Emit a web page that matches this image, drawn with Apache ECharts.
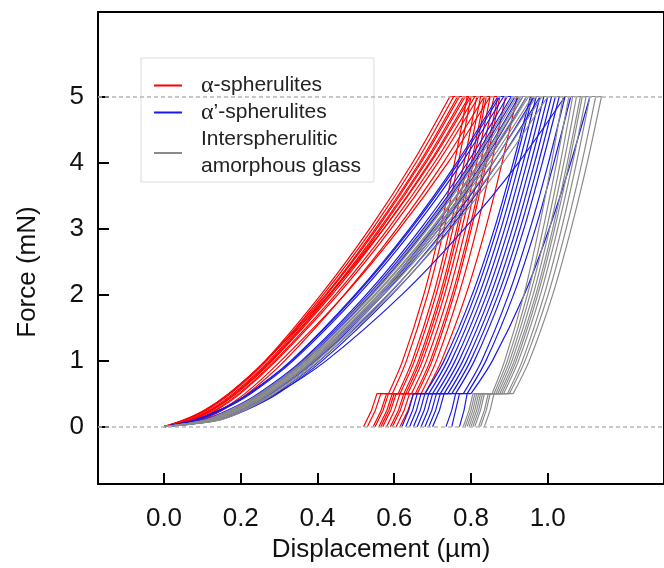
<!DOCTYPE html>
<html>
<head>
<meta charset="utf-8">
<script src="https://cdn.jsdelivr.net/npm/echarts@6/dist/echarts.min.js"></script>
<style>
html, body { margin: 0; padding: 0; background: #fff; }
#chart { width: 664px; height: 568px; }
</style>
</head>
<body>
<div id="chart"></div>
<script>
var xTicks = [0, 0.2, 0.4, 0.6, 0.8, 1.0];
var yTicks = [0, 1, 2, 3, 4, 5];
var refLines = [0, 5];

// force levels (mN) of the loading branch, displacement starts at 0
var loadForce = [0, 0.1, 0.25, 0.5, 1, 2, 3, 4, 5];
// force levels of the unloading branch (from the end of the peak hold down to 0.5 mN)
var unloadForce = [5, 4, 3, 2, 1, 0.5];
// force levels after the hold at 0.5 mN
var tailForce = [0.5, 0.25, 0];

var names = ['α-spherulites', 'α’-spherulites', 'Interspherulitic\namorphous glass'];
var colors = ['#ff0000', '#1a1ae6', '#8a8a8a'];

// displacement (um) at loadForce 0.1 .. 5
var redLoad = [
	[0.054, 0.108, 0.170, 0.264, 0.409, 0.536, 0.648, 0.745],
	[0.058, 0.112, 0.174, 0.268, 0.415, 0.544, 0.657, 0.755],
	[0.050, 0.105, 0.168, 0.265, 0.421, 0.551, 0.666, 0.765],
	[0.064, 0.118, 0.180, 0.274, 0.424, 0.555, 0.670, 0.770],
	[0.068, 0.122, 0.184, 0.278, 0.430, 0.562, 0.679, 0.780],
	[0.070, 0.124, 0.186, 0.280, 0.433, 0.566, 0.683, 0.785],
	[0.073, 0.127, 0.189, 0.283, 0.438, 0.573, 0.692, 0.795],
	[0.052, 0.106, 0.170, 0.265, 0.430, 0.573, 0.695, 0.800],
	[0.079, 0.133, 0.195, 0.289, 0.447, 0.584, 0.705, 0.810],
	[0.083, 0.137, 0.199, 0.293, 0.453, 0.592, 0.714, 0.820],
	[0.095, 0.152, 0.218, 0.315, 0.470, 0.607, 0.728, 0.835],
	[0.090, 0.147, 0.211, 0.305, 0.471, 0.614, 0.740, 0.850]
];
// end of peak hold, unload at 4,3,2,1,0.5 mN, end of 0.5 mN hold, at 0.25, at 0
var redUnload = [
	[0.790, 0.757, 0.720, 0.677, 0.622, 0.585, 0.555, 0.541, 0.520],
	[0.800, 0.767, 0.730, 0.687, 0.632, 0.595, 0.565, 0.551, 0.530],
	[0.815, 0.782, 0.745, 0.702, 0.647, 0.610, 0.580, 0.566, 0.545],
	[0.825, 0.791, 0.753, 0.709, 0.653, 0.615, 0.585, 0.571, 0.550],
	[0.835, 0.801, 0.763, 0.719, 0.663, 0.625, 0.595, 0.581, 0.560],
	[0.840, 0.806, 0.768, 0.724, 0.668, 0.630, 0.600, 0.586, 0.565],
	[0.850, 0.815, 0.776, 0.731, 0.674, 0.635, 0.605, 0.591, 0.570],
	[0.860, 0.825, 0.786, 0.741, 0.684, 0.645, 0.615, 0.601, 0.580],
	[0.870, 0.835, 0.796, 0.751, 0.694, 0.655, 0.625, 0.611, 0.590],
	[0.875, 0.840, 0.801, 0.756, 0.699, 0.660, 0.630, 0.616, 0.595],
	[0.890, 0.854, 0.815, 0.768, 0.710, 0.670, 0.640, 0.626, 0.605],
	[0.920, 0.881, 0.838, 0.787, 0.723, 0.680, 0.650, 0.636, 0.615]
];

var blueLoad = [
	[0.079, 0.144, 0.220, 0.331, 0.498, 0.640, 0.763, 0.870],
	[0.081, 0.146, 0.222, 0.333, 0.501, 0.644, 0.768, 0.875],
	[0.085, 0.150, 0.226, 0.337, 0.507, 0.651, 0.776, 0.885],
	[0.100, 0.167, 0.245, 0.359, 0.527, 0.669, 0.791, 0.895],
	[0.104, 0.171, 0.249, 0.363, 0.533, 0.676, 0.800, 0.905],
	[0.108, 0.175, 0.254, 0.368, 0.540, 0.684, 0.808, 0.915],
	[0.125, 0.193, 0.272, 0.388, 0.560, 0.702, 0.822, 0.925],
	[0.128, 0.197, 0.277, 0.393, 0.566, 0.710, 0.831, 0.935],
	[0.131, 0.200, 0.281, 0.397, 0.572, 0.717, 0.840, 0.945],
	[0.138, 0.208, 0.290, 0.406, 0.585, 0.733, 0.858, 0.965],
	[0.142, 0.213, 0.296, 0.413, 0.594, 0.745, 0.871, 0.980],
	[0.125, 0.203, 0.293, 0.423, 0.620, 0.783, 0.924, 1.045]
];
var blueUnload = [
	[0.955, 0.910, 0.861, 0.803, 0.730, 0.680, 0.650, 0.638, 0.620],
	[0.960, 0.916, 0.868, 0.811, 0.739, 0.690, 0.660, 0.648, 0.630],
	[0.970, 0.926, 0.878, 0.821, 0.749, 0.700, 0.670, 0.658, 0.640],
	[0.980, 0.936, 0.888, 0.831, 0.759, 0.710, 0.680, 0.668, 0.650],
	[0.990, 0.946, 0.898, 0.841, 0.769, 0.720, 0.690, 0.678, 0.660],
	[1.000, 0.956, 0.908, 0.851, 0.779, 0.730, 0.700, 0.688, 0.670],
	[1.010, 0.966, 0.918, 0.861, 0.789, 0.740, 0.710, 0.698, 0.680],
	[1.020, 0.976, 0.928, 0.871, 0.799, 0.750, 0.720, 0.708, 0.690],
	[1.030, 0.986, 0.938, 0.881, 0.809, 0.760, 0.730, 0.718, 0.700],
	[1.045, 1.002, 0.954, 0.898, 0.828, 0.780, 0.760, 0.750, 0.735],
	[1.060, 1.016, 0.968, 0.911, 0.839, 0.790, 0.770, 0.760, 0.750],
	[1.110, 1.060, 1.004, 0.939, 0.856, 0.800, 0.790, 0.782, 0.770]
];

var grayLoad = [
	[0.106, 0.171, 0.249, 0.365, 0.536, 0.680, 0.804, 0.910],
	[0.111, 0.176, 0.254, 0.370, 0.543, 0.688, 0.813, 0.920],
	[0.115, 0.180, 0.258, 0.374, 0.549, 0.696, 0.822, 0.930],
	[0.117, 0.182, 0.260, 0.376, 0.552, 0.699, 0.826, 0.935],
	[0.121, 0.186, 0.264, 0.380, 0.558, 0.707, 0.835, 0.945],
	[0.124, 0.189, 0.267, 0.383, 0.561, 0.711, 0.840, 0.950],
	[0.128, 0.193, 0.271, 0.387, 0.567, 0.718, 0.848, 0.960],
	[0.132, 0.197, 0.275, 0.391, 0.573, 0.726, 0.857, 0.970],
	[0.139, 0.204, 0.282, 0.398, 0.583, 0.738, 0.871, 0.985],
	[0.145, 0.210, 0.288, 0.404, 0.592, 0.749, 0.884, 1.000]
];
var grayUnload = [
	[1.040, 1.010, 0.977, 0.938, 0.888, 0.855, 0.805, 0.795, 0.780],
	[1.055, 1.023, 0.988, 0.947, 0.895, 0.860, 0.810, 0.800, 0.785],
	[1.065, 1.033, 0.997, 0.954, 0.901, 0.865, 0.815, 0.805, 0.790],
	[1.075, 1.042, 1.005, 0.962, 0.907, 0.870, 0.820, 0.810, 0.795],
	[1.085, 1.051, 1.013, 0.969, 0.913, 0.875, 0.825, 0.815, 0.800],
	[1.090, 1.056, 1.018, 0.974, 0.918, 0.880, 0.830, 0.820, 0.805],
	[1.100, 1.065, 1.026, 0.981, 0.924, 0.885, 0.835, 0.825, 0.810],
	[1.110, 1.075, 1.036, 0.991, 0.934, 0.895, 0.845, 0.835, 0.820],
	[1.125, 1.089, 1.048, 1.001, 0.941, 0.900, 0.850, 0.840, 0.825],
	[1.140, 1.103, 1.061, 1.013, 0.952, 0.910, 0.860, 0.850, 0.835]
];

var FONT = '"Liberation Sans", Arial, Helvetica, sans-serif';
var series = [];

function lineSeries(idx, data, smooth) {
	return {
		name: names[idx], type: 'line', data: data, showSymbol: false, silent: true,
		smooth: smooth, lineStyle: { color: colors[idx], width: 1.2 }, itemStyle: { color: colors[idx] }
	};
}

function addGroup(idx, loads, unloads) {
	for (var i = 0; i < loads.length; i++) {
		var ld = [[0, loadForce[0]]];
		for (var j = 0; j < loads[i].length; j++) {
			ld.push([loads[i][j], loadForce[j + 1]]);
		}
		var hL = loads[i][loads[i].length - 1];
		var u = unloads[i];
		var ud = [];
		for (var k = 0; k < unloadForce.length; k++) {
			ud.push([u[k], unloadForce[k]]);
		}
		var tail = [[u[5], 0.5]];
		for (var t = 0; t < tailForce.length; t++) {
			tail.push([u[6 + t], tailForce[t]]);
		}
		series.push(lineSeries(idx, ld, 0.3));
		series.push(lineSeries(idx, [[hL, 5], [u[0], 5]], false));
		series.push(lineSeries(idx, ud, 0.3));
		series.push(lineSeries(idx, tail, false));
	}
}
addGroup(0, redLoad, redUnload);
addGroup(1, blueLoad, blueUnload);
addGroup(2, grayLoad, grayUnload);

// dashed reference lines at 0 and 5 mN
series.unshift({
	name: 'ref', type: 'line', data: [], silent: true,
	markLine: {
		silent: true, symbol: 'none', label: { show: false },
		lineStyle: { color: '#b5b5b5', type: [4, 3], width: 1.5 },
		data: refLines.map(function(v) { return { yAxis: v }; })
	}
});

var chart = echarts.init(document.getElementById('chart'));
chart.setOption({
	animation: false,
	grid: {
		left: 98, top: 12, right: -20, bottom: 82,
		show: true, borderColor: '#000', borderWidth: 2
	},
	legend: {
		data: names,
		orient: 'vertical',
		left: 141, top: 58,
		padding: [14, 13, 2, 13],
		itemGap: 0,
		itemWidth: 28, itemHeight: 2,
		icon: 'rect',
		backgroundColor: '#fff',
		borderColor: '#dcdcdc', borderWidth: 1,
		formatter: function(name) { return name.replace('α', '{g|α}'); },
		textStyle: {
			fontFamily: FONT, fontSize: 21, color: '#222', lineHeight: 27,
			padding: [0, 0, 0, 14],
			rich: { g: { fontFamily: '"Liberation Serif", "Times New Roman", serif', fontSize: 24, lineHeight: 27, color: '#222' } }
		}
	},
	xAxis: {
		type: 'value', min: -0.172, max: 1.303,
		name: 'Displacement (µm)', nameLocation: 'middle', nameGap: 50,
		nameTextStyle: { fontFamily: FONT, fontSize: 26, color: '#111' },
		axisLine: { onZero: false, lineStyle: { color: '#000', width: 2 } },
		axisTick: { inside: true, length: 11, lineStyle: { color: '#000', width: 2 }, customValues: xTicks },
		axisLabel: {
			customValues: xTicks, margin: 22, fontFamily: FONT, fontSize: 26, color: '#111',
			formatter: function(v) { return v.toFixed(1); }
		},
		splitLine: { show: false }
	},
	yAxis: {
		type: 'value', min: -0.87, max: 6.28,
		axisLine: { onZero: false, lineStyle: { color: '#000', width: 2 } },
		axisTick: { inside: true, length: 11, lineStyle: { color: '#000', width: 2 }, customValues: yTicks },
		axisLabel: { customValues: yTicks, margin: 14, fontFamily: FONT, fontSize: 26, color: '#111' },
		splitLine: { show: false }
	},
	graphic: [{
		type: 'text', x: 28, y: 272, rotation: Math.PI / 2,
		style: { text: 'Force (mN)', fontFamily: FONT, fontSize: 26, fill: '#111', align: 'center', verticalAlign: 'middle' }
	}],
	series: series
});
</script>
</body>
</html>
